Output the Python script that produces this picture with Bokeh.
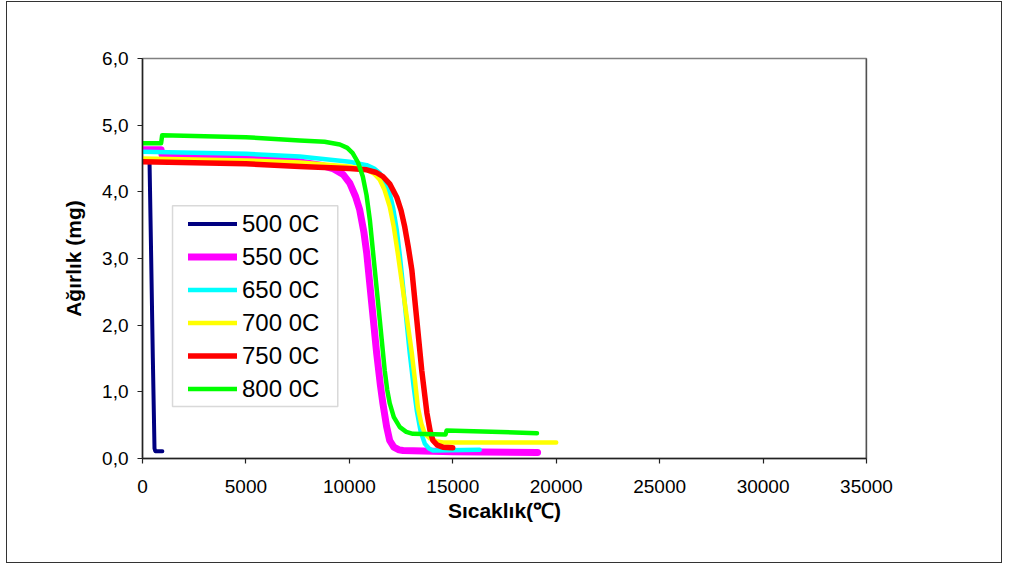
from bokeh.plotting import figure
from bokeh.models import Legend, LegendItem, CustomJSTickFormatter, FixedTicker, Span, BoxAnnotation, Range1d
from bokeh.embed import file_html
from bokeh.resources import INLINE

# ---- data ----
x_500 = [340, 420, 500, 580, 620, 960]
y_500 = [4.45, 3.0, 1.5, 0.15, 0.11, 0.11]

x_550 = [0, 900, 950, 5000, 7600, 8600, 9200, 9700, 10020, 10300, 10500, 10700, 10840, 11080, 11320, 11500,
         11620, 11800, 11950, 12150, 12400, 12600, 15000, 19100]
y_550 = [4.63, 4.63, 4.55, 4.52, 4.45, 4.40, 4.35, 4.26, 4.13, 3.93, 3.73, 3.40, 3.08, 2.33, 1.58, 1.10,
         0.83, 0.48, 0.27, 0.17, 0.13, 0.12, 0.10, 0.09]

x_650 = [0, 5000, 7600, 10000, 10840, 11200, 11470, 11700, 11950, 12120, 12290, 12450, 12600, 12920, 13100,
         13260, 13450, 13650, 13850, 14040, 16300]
y_650 = [4.60, 4.57, 4.53, 4.45, 4.40, 4.35, 4.28, 4.17, 3.98, 3.75, 3.43, 3.02, 2.57, 1.58, 1.10,
         0.72, 0.40, 0.22, 0.15, 0.12, 0.13]

x_700 = [0, 5000, 7600, 10000, 10840, 11200, 11470, 11700, 11950, 12150, 12340, 12680, 13020, 13180, 13310,
         13480, 13650, 13900, 14200, 14520, 20000]
y_700 = [4.50, 4.47, 4.44, 4.38, 4.33, 4.27, 4.18, 4.03, 3.78, 3.47, 3.08, 2.33, 1.58, 1.15, 0.77,
         0.52, 0.37, 0.30, 0.26, 0.24, 0.24]

x_750 = [0, 5000, 7600, 10000, 10840, 11300, 11620, 11950, 12290, 12500, 12680, 12850, 13020, 13260, 13500,
         13750, 13900, 14040, 14250, 14520, 15000]
y_750 = [4.45, 4.42, 4.38, 4.35, 4.33, 4.29, 4.23, 4.12, 3.92, 3.72, 3.47, 3.17, 2.83, 2.08, 1.32,
         0.68, 0.42, 0.27, 0.20, 0.17, 0.16]

x_800 = [0, 900, 950, 2000, 5000, 7600, 8800, 9540, 9900, 10160, 10420, 10650, 10830, 10990, 11230, 11470,
         11710, 11830, 11950, 12150, 12440, 12750, 13070, 14650, 14700, 16000, 19070]
y_800 = [4.73, 4.73, 4.85, 4.84, 4.82, 4.77, 4.75, 4.71, 4.66, 4.58, 4.44, 4.23, 3.95, 3.58, 2.83, 2.08,
         1.32, 1.03, 0.83, 0.62, 0.47, 0.40, 0.37, 0.36, 0.42, 0.41, 0.38]

series_names = ["500 0C", "550 0C", "650 0C", "700 0C", "750 0C", "800 0C"]
series_x = [x_500, x_550, x_650, x_700, x_750, x_800]
series_y = [y_500, y_550, y_650, y_700, y_750, y_800]
series_colors = ["#000080", "#FF00FF", "#00FFFF", "#FFFF00", "#FF0000", "#00FF00"]
series_widths = [4, 7, 4.5, 4.5, 5.5, 4.5]

x_ticks = [0, 5000, 10000, 15000, 20000, 25000, 30000, 35000]
y_ticks = [0, 1, 2, 3, 4, 5, 6]

FONT = "Liberation Sans"

p = figure(width=996, height=562, output_backend="svg", toolbar_location=None,
           x_range=Range1d(0, 35000), y_range=Range1d(0, 6))
p.min_border_left = 135
p.min_border_right = 137
p.min_border_top = 56
p.min_border_bottom = 106
p.styles = {"border": "1px solid #333333", "margin-left": "6px", "margin-top": "1px"}

p.xgrid.visible = False
p.ygrid.visible = False
p.outline_line_color = "#808080"
p.outline_line_width = 1.5

for ax in (p.xaxis[0], p.yaxis[0]):
    ax.axis_line_color = "#222222"
    ax.axis_line_width = 1.5
    ax.major_tick_line_color = "#222222"
    ax.major_tick_line_width = 1.2
    ax.major_tick_out = 5
    ax.major_tick_in = 0
    ax.minor_tick_out = 0
    ax.minor_tick_in = 0
    ax.major_label_text_font = FONT
    ax.major_label_text_font_size = "19px"
    ax.major_label_text_color = "#000000"
    ax.axis_label_text_font = FONT
    ax.axis_label_text_font_size = "21px"
    ax.axis_label_text_font_style = "bold"
    ax.axis_label_text_color = "#000000"

p.xaxis.ticker = FixedTicker(ticks=x_ticks)
p.yaxis.ticker = FixedTicker(ticks=y_ticks)
p.xaxis.formatter = CustomJSTickFormatter(code="return tick.toFixed(0);")
p.yaxis.formatter = CustomJSTickFormatter(code="return tick.toFixed(1).replace('.', ',');")
p.xaxis.axis_label = "Sıcaklık(℃)"
p.yaxis.axis_label = "Ağırlık (mg)"
p.xaxis.major_label_standoff = 16
p.yaxis.major_label_standoff = 9
p.xaxis.axis_label_standoff = 3
p.yaxis.axis_label_standoff = 14

p.add_layout(Span(location=35000, dimension="height", line_color="#222222", line_width=1.5))

renderers = []
for xs, ys, c, w in zip(series_x, series_y, series_colors, series_widths):
    r = p.line(xs, ys, line_color=c, line_width=w, line_cap="round", line_join="round")
    renderers.append(r)

# legend frame
p.add_layout(BoxAnnotation(left=1452, right=9440, bottom=0.78, top=3.79,
                           fill_color="white", fill_alpha=1.0,
                           line_color="#808080", line_width=1.5))

items = [LegendItem(label=name, renderers=[r]) for name, r in zip(series_names, renderers)]

legend = Legend(items=items, location=(46, 53), margin=0, padding=0,
                spacing=0, glyph_width=49, glyph_height=33, label_height=33,
                label_standoff=5, label_text_font=FONT, label_text_font_size="24px",
                label_text_color="#000000", border_line_alpha=0, background_fill_alpha=0)
p.add_layout(legend)

open("out.html", "w").write(file_html(p, INLINE))
